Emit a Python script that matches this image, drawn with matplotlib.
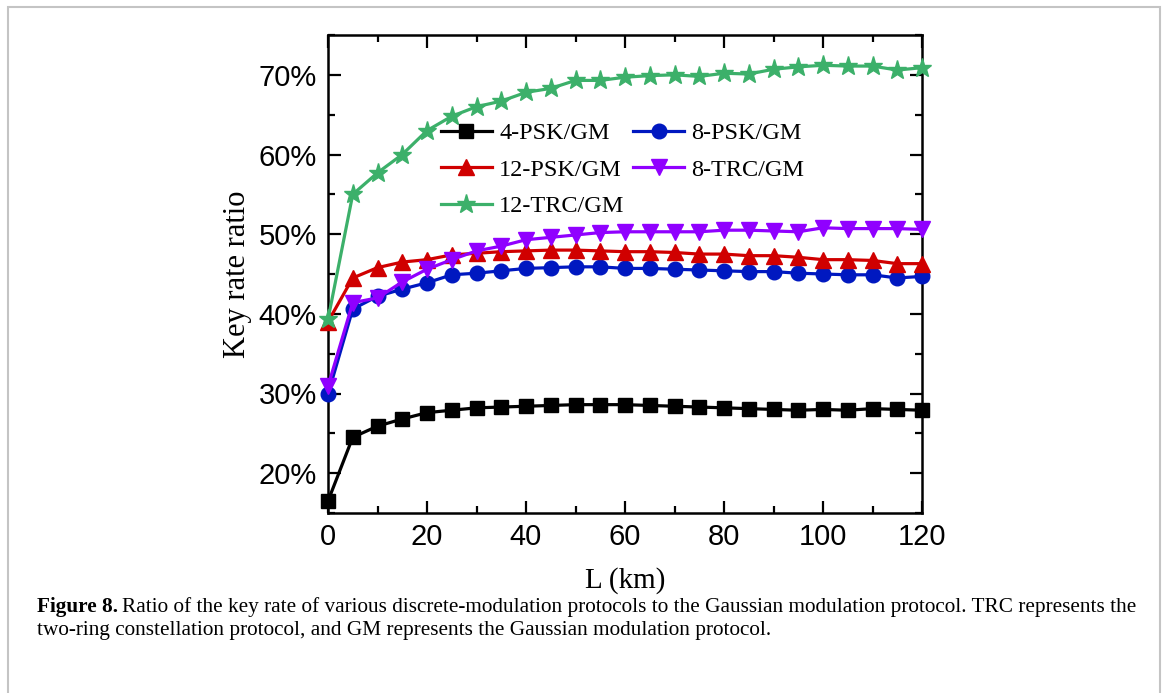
"""Key rate ratio of discrete-modulation protocols vs. Gaussian modulation (Figure 8)."""
import matplotlib
matplotlib.use("Agg")
import matplotlib.pyplot as plt
from matplotlib.lines import Line2D
from matplotlib.ticker import MultipleLocator, PercentFormatter

# distance L (km)
L_KM = [0, 5, 10, 15, 20, 25, 30, 35, 40, 45, 50, 55, 60, 65, 70, 75, 80, 85,
        90, 95, 100, 105, 110, 115, 120]

# key rate ratio (%)
PSK4 = [16.5, 24.5, 25.9, 26.8, 27.6, 27.9, 28.2, 28.3, 28.4, 28.5, 28.6, 28.6, 28.6,
        28.5, 28.4, 28.3, 28.2, 28.1, 28.0, 27.9, 28.0, 27.9, 28.1, 28.0, 27.9]
PSK8 = [29.9, 40.6, 42.2, 43.1, 43.9, 44.9, 45.1, 45.4, 45.7, 45.8, 45.9, 45.9, 45.7,
        45.7, 45.6, 45.5, 45.4, 45.3, 45.3, 45.1, 45.0, 44.9, 44.9, 44.5, 44.7]
PSK12 = [39.0, 44.5, 45.8, 46.5, 46.8, 47.4, 47.6, 47.8, 47.9, 48.0, 48.0, 47.9, 47.8,
         47.8, 47.7, 47.5, 47.5, 47.3, 47.3, 47.1, 46.8, 46.8, 46.7, 46.3, 46.3]
TRC8 = [30.9, 41.4, 42.0, 44.0, 45.6, 46.8, 47.9, 48.5, 49.3, 49.6, 49.9, 50.2, 50.3,
        50.3, 50.3, 50.3, 50.5, 50.5, 50.4, 50.3, 50.8, 50.7, 50.7, 50.7, 50.6]
TRC12 = [39.3, 55.0, 57.7, 60.0, 63.0, 64.8, 66.0, 66.7, 67.8, 68.3, 69.3, 69.3, 69.7,
         69.9, 70.0, 69.8, 70.2, 70.1, 70.7, 71.0, 71.2, 71.1, 71.1, 70.6, 70.9]

SERIES = [
    ("4-PSK/GM", PSK4, "#000000", "s", 9.5),
    ("8-PSK/GM", PSK8, "#0018c0", "o", 10.5),
    ("12-PSK/GM", PSK12, "#d00000", "^", 11),
    ("8-TRC/GM", TRC8, "#9000ff", "v", 11),
    ("12-TRC/GM", TRC12, "#3cb06a", "*", 14),
]

SANS = "Liberation Sans"
SERIF = "Liberation Serif"

fig = plt.figure(figsize=(11.67, 6.93), dpi=100)
ax = fig.add_axes([328 / 1167, 1 - 513 / 693, 594 / 1167, 478 / 693])

handles = []
for name, vals, color, marker, ms in SERIES:
    ax.plot(L_KM, vals, color=color, marker=marker, ms=ms, lw=2.3,
            mec=color, mfc=color, clip_on=False, zorder=3)
    handles.append(Line2D([], [], color=color, marker=marker, ms=ms, lw=2.3, label=name))

ax.set_xlim(0, 120)
ax.set_ylim(15, 75)
ax.xaxis.set_major_locator(MultipleLocator(20))
ax.xaxis.set_minor_locator(MultipleLocator(10))
ax.yaxis.set_major_locator(MultipleLocator(10))
ax.yaxis.set_minor_locator(MultipleLocator(5))
ax.yaxis.set_major_formatter(PercentFormatter(decimals=0))
ax.tick_params(which="both", direction="in", top=True, right=True, width=1.6)
ax.tick_params(which="major", length=9)
ax.tick_params(which="minor", length=5)
ax.tick_params(axis="x", pad=7)
ax.tick_params(axis="y", pad=8)
for lab in ax.get_xticklabels() + ax.get_yticklabels():
    lab.set_fontfamily(SANS)
    lab.set_fontsize(21)
for sp in ax.spines.values():
    sp.set_linewidth(1.8)

ax.set_xlabel("L (km)", family=SERIF, fontsize=21, labelpad=12)
ax.set_ylabel("Key rate ratio", family=SERIF, fontsize=22, labelpad=5)

# legend order: row-wise 4-PSK, 8-PSK / 12-PSK, 8-TRC / 12-TRC
order = [0, 2, 4, 1, 3]
ax.legend([handles[i] for i in order], [SERIES[i][0] for i in order],
          ncol=2, loc="upper left", bbox_to_anchor=(0.19, 0.818), frameon=False,
          prop={"family": SERIF, "size": 17.5}, handlelength=2.1, handletextpad=0.3,
          columnspacing=0.35, labelspacing=0.6, borderaxespad=0, borderpad=0)

# page frame
frame = plt.Rectangle((8 / 1167, -0.05), 1152 / 1167, 1.05 - 7 / 693,
                      transform=fig.transFigure, fill=False, ec="#c4c4c4", lw=1.5)
fig.add_artist(frame)

# caption with bold lead-in
fig.canvas.draw()
renderer = fig.canvas.get_renderer()
y1 = 1 - 607 / 693
y2 = 1 - 630 / 693
head = fig.text(37 / 1167, y1, "Figure 8.", family=SERIF, weight="bold",
                fontsize=15.3, va="center")
bb = head.get_window_extent(renderer)
fig.text(bb.x1 / fig.bbox.width + 4 / 1167, y1,
         "Ratio of the key rate of various discrete-modulation protocols to the Gaussian "
         "modulation protocol. TRC represents the",
         family=SERIF, fontsize=15.3, va="center")
fig.text(37 / 1167, y2,
         "two-ring constellation protocol, and GM represents the Gaussian modulation protocol.",
         family=SERIF, fontsize=15.3, va="center")

fig.savefig("out.png", dpi=100)
